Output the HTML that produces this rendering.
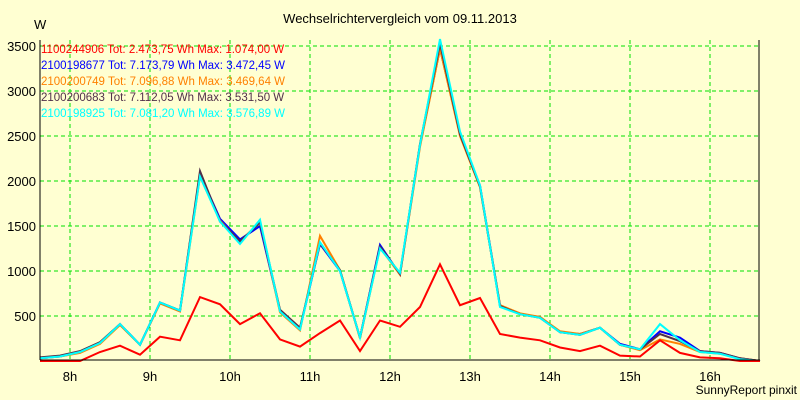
<!DOCTYPE html>
<html><head><meta charset="utf-8"><style>
body{margin:0;background:#ffffd2;}
svg{display:block;font-family:"Liberation Sans",sans-serif;}
</style></head><body>
<svg id="c" width="800" height="400">
<rect width="800" height="400" fill="#ffffd2"/>
<text x="400" y="23" text-anchor="middle" font-size="13">Wechselrichtervergleich vom 09.11.2013</text>
<text x="34" y="29" font-size="13">W</text>
<text x="797" y="394" text-anchor="end" font-size="12">SunnyReport pinxit</text>
<g id="grid"></g><g id="series"></g><g id="legend"></g>
<line x1="40" y1="40" x2="40" y2="360" stroke="#000"/>
<line x1="40" y1="360" x2="760" y2="360" stroke="#000"/>
<line x1="759" y1="40" x2="759" y2="360" stroke="#000"/>
</svg>
<script>
const yTicks=[500,1000,1500,2000,2500,3000,3500];
const xTicks=[8,9,10,11,12,13,14,15,16];
const startHour=7.625, stepHour=0.25;
const names=["1100244906","2100198677","2100200749","2100200683","2100198925"];
const totals=["2.473,75","7.173,79","7.096,88","7.112,05","7.081,20"];
const maxes=["1.074,00","3.472,45","3.469,64","3.531,50","3.576,89"];
const colors=["#ff0000","#0000ff","#ff8000","#50304a","#00ffff"];
const s1=[0,0,0,100,170,70,270,230,710,630,410,530,240,160,310,450,110,450,380,600,1074,620,700,300,260,230,150,110,170,60,50,230,90,40,30,0,0];
const s2=[30,50,100,200,410,180,650,560,2080,1580,1350,1500,560,360,1300,1000,260,1290,960,2400,3472,2520,1950,620,520,490,320,300,370,190,130,330,260,110,90,30,0];
const s3=[30,50,90,190,400,180,640,550,2050,1560,1320,1550,540,340,1390,1010,250,1260,960,2380,3470,2500,1930,620,530,490,330,300,370,180,120,240,190,100,80,30,0];
const s4=[40,60,110,210,410,180,650,560,2110,1550,1330,1540,570,370,1310,1010,260,1270,970,2410,3531,2520,1940,610,520,480,320,290,370,180,130,300,220,110,90,30,0];
const s5=[30,50,100,200,410,180,650,560,2050,1550,1300,1570,550,350,1320,1000,260,1250,980,2400,3577,2550,1950,600,520,480,320,290,370,180,130,410,230,100,80,20,0];
const series=[s1,s2,s3,s4,s5];
const X=h=>70+(h-8)*80;
const Y=v=>361-v*45/500;
const NS="http://www.w3.org/2000/svg";
const grid=document.getElementById('grid');
const svg=document.getElementById('c');
yTicks.forEach(t=>{
 const l=document.createElementNS(NS,'line');
 l.setAttribute('x1',40);l.setAttribute('x2',759);l.setAttribute('y1',Y(t));l.setAttribute('y2',Y(t));
 l.setAttribute('stroke','#00e000');l.setAttribute('stroke-dasharray','4,3');
 
 
 grid.appendChild(l);
 const tx=document.createElementNS(NS,'text');
 tx.setAttribute('x',36);tx.setAttribute('y',Y(t)+5);tx.setAttribute('text-anchor','end');tx.setAttribute('font-size','13');
 tx.textContent=t;
 
 
 svg.appendChild(tx);
});
xTicks.forEach(h=>{
 const l=document.createElementNS(NS,'line');
 l.setAttribute('x1',X(h));l.setAttribute('x2',X(h));l.setAttribute('y1',40);l.setAttribute('y2',360);
 l.setAttribute('stroke','#00e000');l.setAttribute('stroke-dasharray','4,3');
 
 
 grid.appendChild(l);
 const tx=document.createElementNS(NS,'text');
 tx.setAttribute('x',X(h));tx.setAttribute('y',381);tx.setAttribute('text-anchor','middle');tx.setAttribute('font-size','13');
 tx.textContent=h+'h';
 
 
 svg.appendChild(tx);
});
const sg=document.getElementById('series');
[1,2,3,4,0].forEach(i=>{
 const p=document.createElementNS(NS,'polyline');
 p.setAttribute('points',series[i].map((v,k)=>X(startHour+k*stepHour)+','+Y(v)).join(' '));
 p.setAttribute('fill','none');p.setAttribute('stroke',colors[i]);p.setAttribute('stroke-width',2);
 
 
 sg.appendChild(p);
});
const lg=document.getElementById('legend');
names.forEach((n,i)=>{
 const tx=document.createElementNS(NS,'text');
 tx.setAttribute('x',41);tx.setAttribute('y',53+i*16);tx.setAttribute('font-size','11.5');tx.setAttribute('fill',colors[i]);
 tx.textContent=n+' Tot: '+totals[i]+' Wh Max: '+maxes[i]+' W';
 
 
 lg.appendChild(tx);
});
</script>
</body></html>
